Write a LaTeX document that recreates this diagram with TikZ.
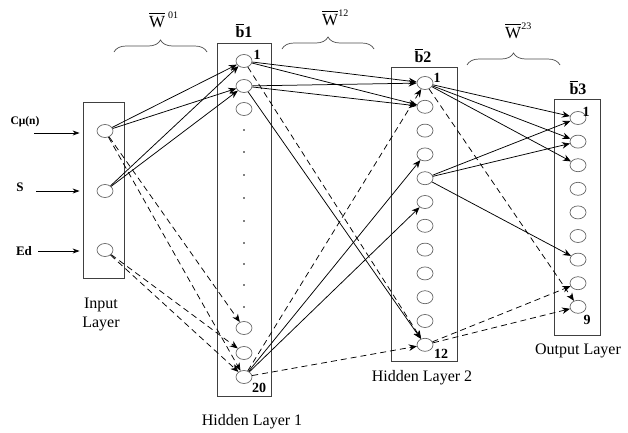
\documentclass[tikz,border=0pt]{standalone}
\usepackage{fontspec}
\setmainfont{Liberation Serif}
\usetikzlibrary{shapes.geometric,arrows.meta,decorations.pathreplacing}
\newcommand{\barb}{\rlap{\rule[0.82em]{0.55em}{0.05em}}b}
\newcommand{\barW}{\rlap{\rule[0.8em]{0.92em}{0.05em}}W}
\begin{document}
\begin{tikzpicture}[x=1pt,y=-1pt,
 neuron/.style={ellipse,draw=black!60,line width=0.7pt,minimum width=16pt,minimum height=13pt,inner sep=0pt},
 layerbox/.style={draw=black!75,line width=0.8pt,rectangle,inner sep=0pt},
 conn/.style={-{Stealth[length=8pt,width=6.5pt]},line width=0.75pt},
 dconn/.style={conn,dash pattern=on 6pt off 4pt},
 lbl/.style={font=\fontsize{16}{19}\selectfont,align=center},
 num/.style={font=\bfseries\fontsize{14}{14}\selectfont,inner sep=0pt},
 hdr/.style={font=\fontsize{17}{17}\selectfont,inner sep=0pt},
 brc/.style={decorate,decoration={brace,amplitude=12pt},line width=0.7pt,draw=black!70}]
\useasboundingbox (0,0) rectangle (628,432);

% layer boxes
\node[layerbox,minimum width=41pt,minimum height=176pt] (inbox) at (103.5,190) {};
\node[layerbox,minimum width=54pt,minimum height=353pt] (h1box) at (244,219.5) {};
\node[layerbox,minimum width=66pt,minimum height=294pt] (h2box) at (424,214) {};
\node[layerbox,minimum width=46pt,minimum height=236pt] (obox) at (577,217) {};

% input neurons
\node[neuron] (i1) at (105,131) {};
\node[neuron] (i2) at (105,191) {};
\node[neuron] (i3) at (105,250) {};

% hidden layer 1
\node[neuron] (h1) at (244,61) {};
\node[neuron] (h2) at (244,86) {};
\node[neuron] (h3) at (244,109) {};
\node[neuron] (h18) at (244,328) {};
\node[neuron] (h19) at (244,353) {};
\node[neuron] (h20) at (244,377) {};
\foreach \y in {130,152,175,198,221,243,264,285,307}
  \fill (244,\y) circle (0.9pt);

% hidden layer 2
\foreach \k in {1,...,12}
  \node[neuron] (g\k) at (425,{83+(\k-1)*23.8}) {};

% output layer
\foreach \k in {1,...,9}
  \node[neuron] (o\k) at (578,{118+(\k-1)*23.6}) {};

% inputs
\node[num,font=\bfseries\fontsize{11.5}{11.5}\selectfont] (lc) at (25,122) {Cμ(n)};
\node[num,font=\bfseries\fontsize{13}{13}\selectfont] (ls) at (20,187) {S};
\node[num,font=\bfseries\fontsize{13}{13}\selectfont] (le) at (24,251) {Ed};
\coordinate (c1) at (34,133);
\coordinate (c2) at (36,191);
\coordinate (c3) at (38,251);
\draw[conn,-{Stealth[length=7pt,width=5pt]},shorten >=3pt] (c1) -- (c1 -| inbox.west);
\draw[conn,-{Stealth[length=7pt,width=5pt]},shorten >=3pt] (c2) -- (c2 -| inbox.west);
\draw[conn,-{Stealth[length=7pt,width=5pt]},shorten >=3pt] (c3) -- (c3 -| inbox.west);

% input -> hidden 1
\draw[conn] (i1) -- (h1);
\draw[conn] (i1) -- (h2);
\draw[conn] (i2) -- (h1);
\draw[conn] (i2) -- (h2);
\draw[dconn] (i1) -- (h18);
\draw[dconn] (i1) -- (h20);
\draw[dconn] (i3) -- (h19);
\draw[dconn] (i3) -- (h20);

% hidden 1 -> hidden 2
\draw[conn] (h1) -- (g1);
\draw[conn] (h1) -- (g2);
\draw[conn] (h2) -- (g1);
\draw[conn] (h2) -- (g2);
\draw[conn] (h2) -- (g12);
\draw[conn] (h20) -- (g4);
\draw[conn] (h20) -- (g6);
\draw[dconn] (h1) -- (g12);
\draw[dconn] (h20) -- (g1);
\draw[dconn] (h20) -- (g12);

% hidden 2 -> output
\draw[conn] (g1) -- (o1);
\draw[conn] (g1) -- (o2);
\draw[conn] (g1) -- (o3);
\draw[conn] (g5) -- (o1);
\draw[conn] (g5) -- (o2);
\draw[conn] (g5) -- (o7);
\draw[dconn] (g1) -- (o9);
\draw[dconn] (g12) -- (o8);
\draw[dconn] (g12) -- (o9);

% neuron numbers
\node[num] (n1a) at (257,55) {1};
\node[num] (n20) at (259,388) {20};
\node[num] (n1b) at (437,78) {1};
\node[num] (n12) at (441,354) {12};
\node[num] (n1c) at (586,112) {1};
\node[num] (n9) at (587,320) {9};

% bias labels
\node[hdr,font=\bfseries\fontsize{16}{16}\selectfont] (b1) at (244,31) {\barb1};
\node[hdr,font=\bfseries\fontsize{16}{16}\selectfont] (b2) at (423,56) {\barb2};
\node[hdr,font=\bfseries\fontsize{16}{16}\selectfont] (b3) at (578,88) {\barb3};

% weight braces
\coordinate (w01a) at (114,52); \coordinate (w01b) at (207,52);
\coordinate (w12a) at (282,49); \coordinate (w12b) at (374,49);
\coordinate (w23a) at (467,65); \coordinate (w23b) at (560,65);
\draw[brc] (w01a) -- (w01b);
\draw[brc] (w12a) -- (w12b);
\draw[brc] (w23a) -- (w23b);
\node[hdr,anchor=base west] (w01) at (149,27) {\barW\kern3pt\raisebox{0.5em}{\fontsize{10}{10}\selectfont 01}};
\node[hdr,anchor=base west] (w12) at (322,25) {\barW\raisebox{0.5em}{\fontsize{10}{10}\selectfont 12}};
\node[hdr,anchor=base west] (w23) at (505,38) {\barW\raisebox{0.5em}{\fontsize{10}{10}\selectfont 23}};

% layer labels
\node[lbl] (lin) at (101,314) {Input\\Layer};
\node[lbl] (lh1) at (252,422) {Hidden Layer 1};
\node[lbl] (lh2) at (422,378) {Hidden Layer 2};
\node[lbl] (lout) at (578,351) {Output Layer};
\end{tikzpicture}
\end{document}
